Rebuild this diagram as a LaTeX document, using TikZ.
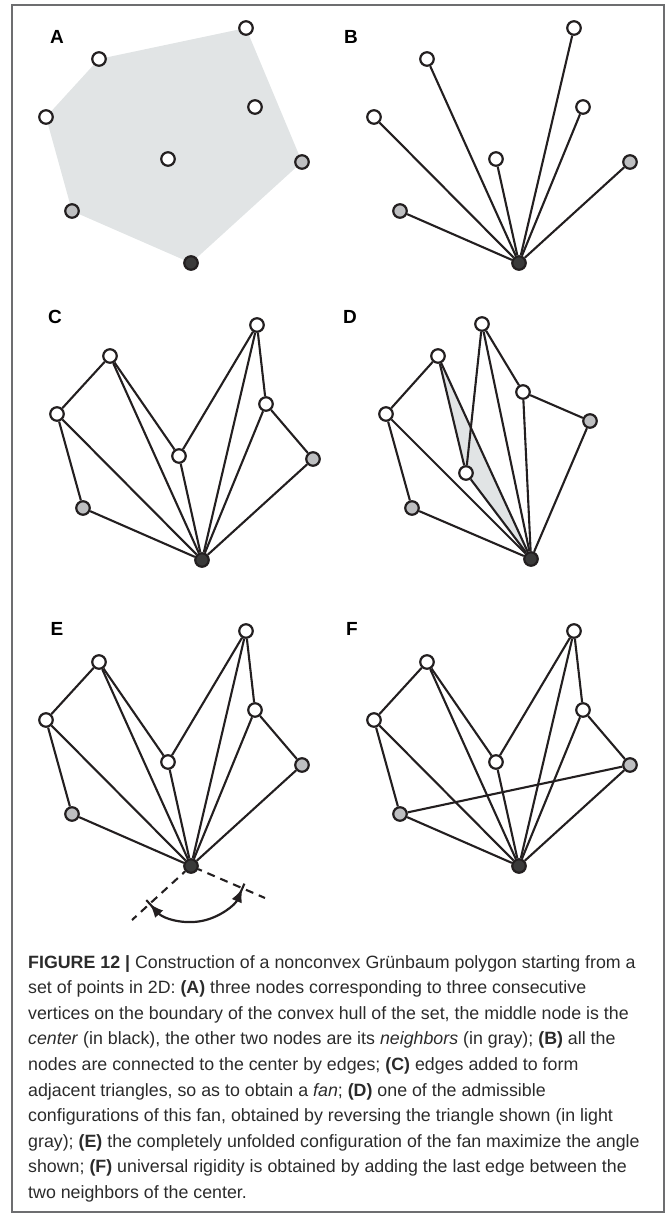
\documentclass[tikz,border=0pt]{standalone}
\usepackage{fontspec}
\setmainfont{Liberation Sans}
\usetikzlibrary{arrows.meta,backgrounds}
\definecolor{ink}{HTML}{231F20}
\definecolor{captink}{HTML}{2B2B2B}
\definecolor{hullgray}{HTML}{E1E4E5}
\definecolor{nbgray}{HTML}{BEBFC1}
\definecolor{ctrgray}{HTML}{3A3A3A}
\definecolor{framegray}{HTML}{6D6E70}
\newcommand\fannodes[3]{%
  \begin{scope}[shift={(#2,#3)}]
    \node[wn] (#11) at (246,-28) {};
    \node[wn] (#12) at (99,-59) {};
    \node[wn] (#13) at (46,-117) {};
    \node[wn] (#14) at (255,-107) {};
    \node[wn] (#15) at (168,-159) {};
    \node[gn] (#16) at (302,-162) {};
    \node[gn] (#17) at (72,-211) {};
    \node[cn] (#10) at (191,-263) {};
  \end{scope}}
\newcommand\spokes[1]{%
  \foreach \k in {1,...,7}{\draw[ed] (#10) -- (#1\k);}}
\newcommand\fanchain[1]{%
  \draw[ed] (#17) -- (#13) -- (#12) -- (#15) -- (#11) -- (#14) -- (#16);}
\begin{document}
\begin{tikzpicture}[x=1pt,y=1pt,
  wn/.style={circle,draw=ink,line width=2.2pt,fill=white,minimum size=13.5pt,inner sep=0pt},
  gn/.style={wn,fill=nbgray},
  cn/.style={wn,fill=ctrgray},
  ed/.style={draw=ink,line width=2.1pt},
  lab/.style={font=\bfseries\fontsize{19}{19}\selectfont,text=black,inner sep=0pt},
  captext/.style={anchor=base west,inner sep=0pt,font=\fontsize{17.8}{17.8}\selectfont,text=captink},
  dsh/.style={draw=ink,line width=2.1pt,dash pattern=on 8pt off 6pt,dash phase=4pt},
  ang/.style={draw=ink,line width=2.2pt,{Latex[length=14pt,width=11pt]}-{Latex[length=14pt,width=11pt]}},
  tick/.style={draw=ink,line width=2.1pt},
]
\useasboundingbox (0,0) rectangle (668,-1213);
\draw[framegray,line width=1.3pt] (12,-5) rectangle (664,-1212);

% panel labels
\node[lab] (lA) at (57,-37) {A};
\node[lab] (lB) at (351,-37) {B};
\node[lab] (lC) at (55,-317) {C};
\node[lab] (lD) at (350,-317) {D};
\node[lab] (lE) at (57,-629) {E};
\node[lab] (lF) at (352,-629) {F};

% A
\fannodes{a}{0}{0}
\begin{scope}[on background layer]
  \fill[hullgray] (a1.center) -- (a6.center) -- (a0.center) -- (a7.center) -- (a3.center) -- (a2.center) -- cycle;
\end{scope}

% B
\fannodes{b}{328}{0}
\spokes{b}

% C
\fannodes{c}{11}{-297}
\spokes{c}
\fanchain{c}

% D
\node[wn] (d1) at (482,-324) {};
\node[wn] (d2) at (438,-356) {};
\node[wn] (d3) at (386,-414) {};
\node[wn] (d4) at (523,-392) {};
\node[wn] (d5) at (466,-473) {};
\node[gn] (d6) at (590,-421) {};
\node[gn] (d7) at (412,-508) {};
\node[cn] (d0) at (531,-559) {};
\begin{scope}[on background layer]
  \fill[hullgray] (d2.center) -- (d5.center) -- (d0.center) -- cycle;
\end{scope}
\spokes{d}
\fanchain{d}

% E
\fannodes{e}{0}{-603}
\spokes{e}
\fanchain{e}
\coordinate (eL) at (132,-920);
\coordinate (eR) at (265,-898);
\draw[dsh] (e0) -- (eL);
\draw[dsh] (e0) -- (eR);
\draw[ang] ([shift={(222.4:56)}]e0.center) arc[start angle=222.4,end angle=336.6,radius=56];
\draw[tick] ([shift={(222.4:56)}]e0.center) ++(312.4:5) -- ++(132.4:10);
\draw[tick] ([shift={(336.6:56)}]e0.center) ++(246.6:5) -- ++(66.6:10);

% F
\fannodes{f}{328}{-603}
\spokes{f}
\fanchain{f}
\draw[ed] (f7) -- (f6);

% caption
\node[captext] (k1) at (28,-968) {\textbf{FIGURE 12 |} Construction of a nonconvex Grünbaum polygon starting from a};
\node[captext] (k2) at (28,-993.6) {set of points in 2D: \textbf{(A)} three nodes corresponding to three consecutive};
\node[captext] (k3) at (28,-1019.2) {vertices on the boundary of the convex hull of the set, the middle node is the};
\node[captext] (k4) at (28,-1044.8) {\textit{center} (in black), the other two nodes are its \textit{neighbors} (in gray); \textbf{(B)} all the};
\node[captext] (k5) at (28,-1070.4) {nodes are connected to the center by edges; \textbf{(C)} edges added to form};
\node[captext] (k6) at (28,-1096) {adjacent triangles, so as to obtain a \textit{fan}; \textbf{(D)} one of the admissible};
\node[captext] (k7) at (28,-1121.6) {configurations of this fan, obtained by reversing the triangle shown (in light};
\node[captext] (k8) at (28,-1147.2) {gray); \textbf{(E)} the completely unfolded configuration of the fan maximize the angle};
\node[captext] (k9) at (28,-1172.8) {shown; \textbf{(F)} universal rigidity is obtained by adding the last edge between the};
\node[captext] (k10) at (28,-1198.4) {two neighbors of the center.};
\end{tikzpicture}
\end{document}
